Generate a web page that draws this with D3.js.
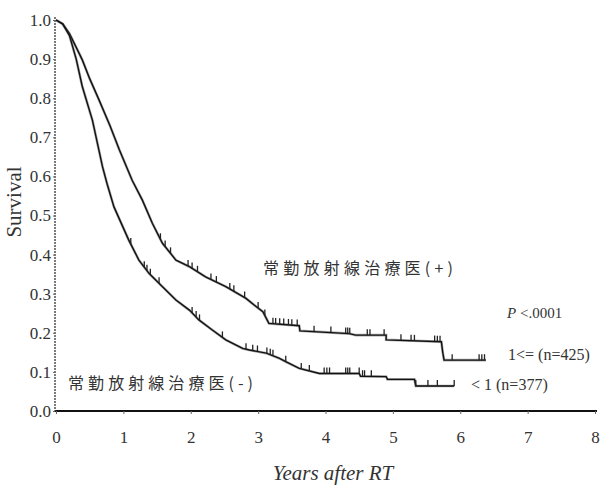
<!DOCTYPE html>
<html>
<head>
<meta charset="utf-8">
<script src="https://cdn.jsdelivr.net/npm/d3@7"></script>
<style>
  body { margin: 0; background: #fff; }
  svg { display: block; }
  .tick text { fill: #333; }
</style>
</head>
<body>
<div id="container"><svg></svg></div>
<script>
let width = 603;
let height = 487;

// survival curves: [years, survival]
let plus_times = [0, 0.1, 0.2, 0.34, 0.39, 0.5, 0.64, 0.8, 0.94, 1.13, 1.28, 1.43, 1.58, 1.78, 1.98, 2.22, 2.52, 2.82, 2.95, 3.07, 3.16, 3.61, 3.62, 4.35, 4.45, 4.9, 4.9, 5.72, 5.74, 5.76, 6.38];
let plus_surv = [1.0, 0.99, 0.965, 0.916, 0.898, 0.85, 0.795, 0.73, 0.668, 0.59, 0.54, 0.48, 0.429, 0.386, 0.369, 0.343, 0.318, 0.288, 0.27, 0.254, 0.224, 0.218, 0.205, 0.198, 0.194, 0.194, 0.182, 0.177, 0.15, 0.13, 0.13];

let minus_times = [0, 0.1, 0.2, 0.3, 0.39, 0.54, 0.69, 0.76, 0.86, 1.08, 1.23, 1.38, 1.58, 1.78, 1.98, 2.12, 2.32, 2.52, 2.77, 2.87, 3.12, 3.31, 3.41, 3.61, 3.91, 4.5, 4.52, 4.9, 4.92, 5.32, 5.34, 5.91];
let minus_surv = [1.0, 0.99, 0.96, 0.9, 0.83, 0.744, 0.625, 0.58, 0.522, 0.437, 0.386, 0.352, 0.318, 0.284, 0.258, 0.233, 0.207, 0.182, 0.16, 0.156, 0.148, 0.135, 0.126, 0.109, 0.096, 0.096, 0.089, 0.088, 0.081, 0.081, 0.064, 0.064];

// censored observations (years)
let plus_censor = [1.55, 1.62, 1.7, 1.96, 2.02, 2.1, 2.3, 2.38, 2.58, 2.64, 2.8, 3.0, 3.1, 3.22, 3.26, 3.32, 3.38, 3.45, 3.5, 3.58, 3.83, 4.08, 4.3, 4.33, 4.36, 4.62, 4.66, 4.87, 5.12, 5.27, 5.32, 5.62, 5.66, 5.7, 5.88, 6.28, 6.32, 6.36];
let minus_censor = [1.11, 1.31, 1.35, 1.4, 1.53, 2.02, 2.08, 2.13, 2.47, 2.82, 2.92, 2.99, 3.13, 3.18, 3.22, 3.41, 3.64, 3.76, 3.98, 4.02, 4.06, 4.3, 4.33, 4.36, 4.5, 4.55, 4.58, 4.68, 5.34, 5.52, 5.66, 5.91];

let x_ticks = [0, 1, 2, 3, 4, 5, 6, 7, 8];
let y_ticks = [0, 0.1, 0.2, 0.3, 0.4, 0.5, 0.6, 0.7, 0.8, 0.9, 1.0];

let label_plus = '常勤放射線治療医(+)';
let label_minus = '常勤放射線治療医(-)';
let serif = "'Liberation Serif','DejaVu Serif',serif";
let cjk = "'Noto Sans CJK JP','Noto Sans CJK SC',sans-serif";

function draw_main() {
    let svg = d3.select('#container').select('svg')
        .attr('width', width)
        .attr('height', height);

    let x = d3.scaleLinear().domain([0, 8]).range([56, 595]);
    let y = d3.scaleLinear().domain([0, 1]).range([411, 20]);

    // x axis
    svg.append('g')
        .attr('transform', `translate(0, ${y(0)})`)
        .call(d3.axisBottom(x).tickValues(x_ticks).tickSize(3).tickPadding(17).tickFormat(d => d))
        .call(g => g.select('.domain').attr('d', `M${x(0) - 1},0H${x(8) + 2}`).attr('stroke', '#111').attr('stroke-width', 1.8))
        .attr('font-family', serif)
        .attr('font-size', 17)
        .selectAll('.tick line').attr('stroke', '#666');

    // y axis
    svg.append('g')
        .attr('transform', `translate(${x(0) - 1}, 0)`)
        .call(d3.axisLeft(y).tickValues(y_ticks).tickSize(2).tickPadding(2).tickFormat(d3.format('.1f')))
        .call(g => g.select('.domain').attr('d', `M0,${y(1) - 3}V${y(0)}`).attr('stroke', '#444').attr('stroke-width', 1.4).attr('stroke-dasharray', '2,1'))
        .attr('font-family', serif)
        .attr('font-size', 17)
        .selectAll('.tick line').attr('stroke', '#666');

    // axis titles
    svg.append('text')
        .attr('transform', 'translate(21, 202) rotate(-90)')
        .attr('text-anchor', 'middle')
        .attr('font-family', serif)
        .attr('font-size', 21)
        .attr('fill', '#333')
        .text('Survival');

    svg.append('text')
        .attr('x', 333)
        .attr('y', 480)
        .attr('text-anchor', 'middle')
        .attr('font-family', serif)
        .attr('font-style', 'italic')
        .attr('font-size', 21)
        .attr('fill', '#333')
        .text('Years after RT');

    let line = d3.line()
        .x(d => x(d[0]))
        .y(d => y(d[1]));

    let groups = [
        { times: plus_times, surv: plus_surv, censor: plus_censor },
        { times: minus_times, surv: minus_surv, censor: minus_censor }
    ];

    groups.forEach(g => {
        let pts = g.times.map((t, i) => [t, g.surv[i]]);
        svg.append('path')
            .datum(pts)
            .attr('fill', 'none')
            .attr('stroke', '#555')
            .attr('stroke-width', 2.6)
            .attr('stroke-opacity', 0.5)
            .attr('d', line);
        svg.append('path')
            .datum(pts)
            .attr('fill', 'none')
            .attr('stroke', '#111')
            .attr('stroke-width', 1.4)
            .attr('d', line);

        // value on curve at time t
        let surv_at = t => {
            let i = d3.bisectRight(g.times, t) - 1;
            if (i < 0) return 1;
            if (i < g.times.length - 1) {
                let t0 = g.times[i], t1 = g.times[i + 1];
                let s0 = g.surv[i], s1 = g.surv[i + 1];
                return t1 > t0 ? s0 + (s1 - s0) * (t - t0) / (t1 - t0) : s0;
            }
            return g.surv[i];
        };
        svg.append('g')
            .selectAll('line')
            .data(g.censor)
            .enter().append('line')
            .attr('x1', d => x(d))
            .attr('x2', d => x(d))
            .attr('y1', d => y(surv_at(d)))
            .attr('y2', d => y(surv_at(d)) - 6)
            .attr('stroke', '#222')
            .attr('stroke-width', 1.3);
    });

    // annotations
    svg.append('text')
        .attr('x', 263).attr('y', 274)
        .attr('font-family', cjk).attr('font-size', 16)
        .attr('textLength', 190).attr('lengthAdjust', 'spacing')
        .attr('fill', '#333')
        .text(label_plus);

    svg.append('text')
        .attr('x', 68).attr('y', 389)
        .attr('font-family', cjk).attr('font-size', 16)
        .attr('textLength', 185).attr('lengthAdjust', 'spacing')
        .attr('fill', '#333')
        .text(label_minus);

    let p = svg.append('text')
        .attr('x', 507).attr('y', 318)
        .attr('font-family', serif).attr('font-size', 15)
        .attr('fill', '#333');
    p.append('tspan').attr('font-style', 'italic').text('P');
    p.append('tspan').text(' <.0001');

    svg.append('text')
        .attr('x', 508).attr('y', 360)
        .attr('font-family', serif).attr('font-size', 16)
        .attr('fill', '#333')
        .text('1<= (n=425)');

    svg.append('text')
        .attr('x', 471).attr('y', 390)
        .attr('font-family', serif).attr('font-size', 16)
        .attr('fill', '#333')
        .text('< 1 (n=377)');
}

draw_main();
</script>
</body>
</html>
